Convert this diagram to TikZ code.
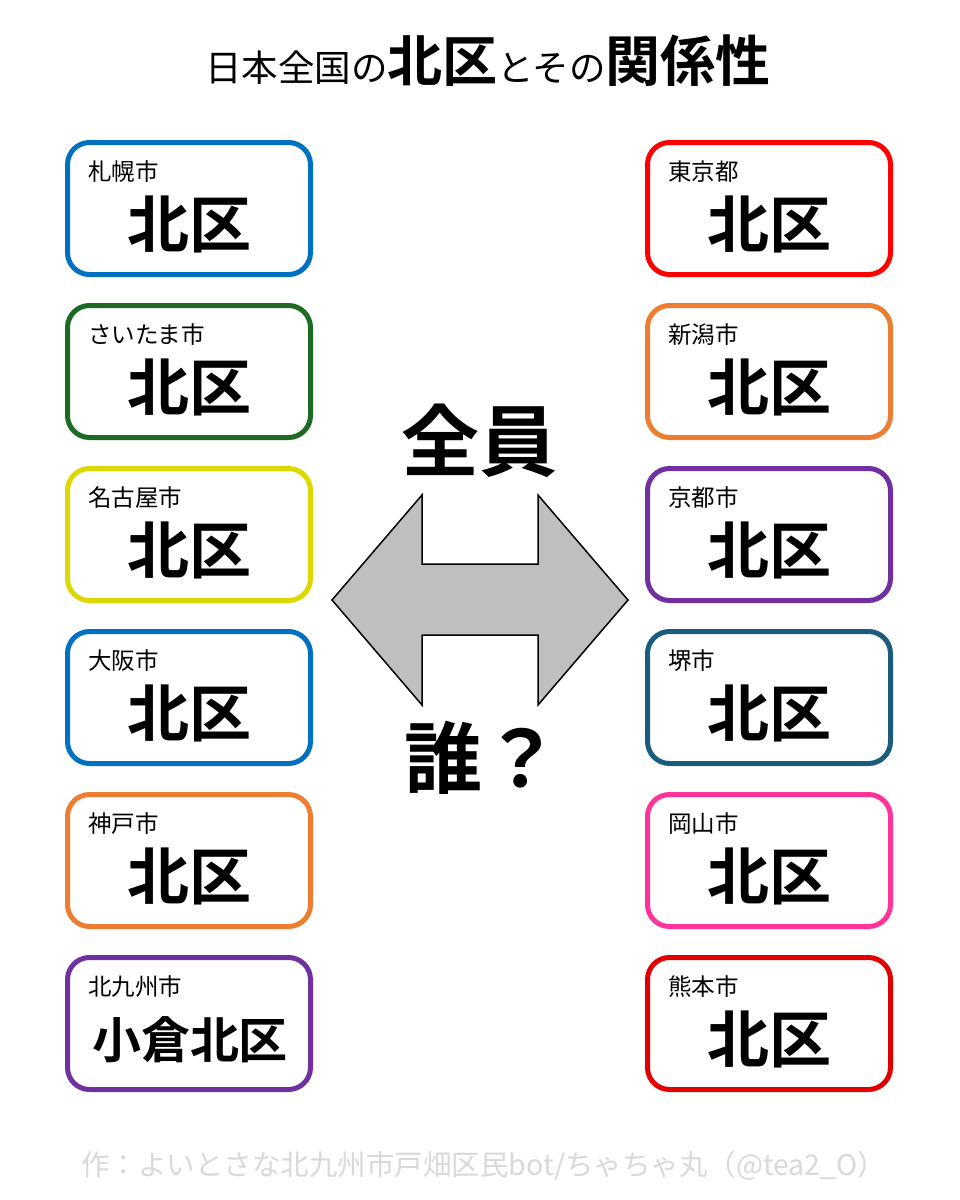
\documentclass[tikz,border=0pt]{standalone}
\usepackage{fontspec}
\setmainfont{Noto Sans CJK JP}
\newfontfamily\jpb{Noto Sans CJK JP Bold}
\definecolor{cblue}{HTML}{0070C0}
\definecolor{cgreen}{HTML}{1B6B25}
\definecolor{cyellow}{HTML}{DDD800}
\definecolor{corange}{HTML}{ED7D31}
\definecolor{cpurple}{HTML}{7030A0}
\definecolor{cred}{HTML}{FF0000}
\definecolor{cteal}{HTML}{1B5C7E}
\definecolor{cpink}{HTML}{FF3399}
\definecolor{cdred}{HTML}{E00000}
\definecolor{footgray}{HTML}{D9D9D9}
\begin{document}
\begin{tikzpicture}[x=1pt,y=-1pt,
  wardbox/.style={draw=#1, line width=5pt, rounded corners=22pt, minimum width=243pt, minimum height=132pt, inner sep=0pt, fill=white},
  cityname/.style={anchor=base west, font=\fontsize{23.5}{26}\selectfont, inner sep=0pt},
  wardname/.style={anchor=center, font=\jpb\fontsize{62}{66}\selectfont, inner sep=0pt},
  bigword/.style={font=\jpb\fontsize{78}{82}\selectfont, inner sep=0pt}]
\useasboundingbox (0,0) rectangle (960,1200);
\fill[white] (0,0) rectangle (960,1200);
% title
\node[anchor=base, inner sep=0pt] (title) at (488,81)
  {\fontsize{36.5}{40}\selectfont 日本全国の{\jpb\fontsize{55}{58}\selectfont 北区}とその{\jpb\fontsize{55}{58}\selectfont 関係性}};
% boxes left
\foreach \n/\c/\y/\city in {
  L1/cblue/208.5/札幌市,
  L2/cgreen/371.5/さいたま市,
  L3/cyellow/534.5/名古屋市,
  L4/cblue/697.5/大阪市,
  L5/corange/860.5/神戸市}{
  \node[wardbox=\c] (\n) at (189,\y) {};
  \node[cityname] (\n c) at (88,\y-28) {\city};
  \node[wardname] (\n w) at (189,\y+16) {北区};
}
\node[wardbox=cpurple] (L6) at (189,1023.5) {};
\node[cityname] (L6c) at (88,995.5) {北九州市};
\node[anchor=center, inner sep=0pt, font=\jpb\fontsize{49}{52}\selectfont] (L6w) at (190,1040) {小倉北区};
\foreach \n/\c/\y/\city in {
  R1/cred/208.5/東京都,
  R2/corange/371.5/新潟市,
  R3/cpurple/534.5/京都市,
  R4/cteal/697.5/堺市,
  R5/cpink/860.5/岡山市,
  R6/cdred/1023.5/熊本市}{
  \node[wardbox=\c] (\n) at (769,\y) {};
  \node[cityname] (\n c) at (668,\y-28) {\city};
  \node[wardname] (\n w) at (769,\y+16) {北区};
}
% double arrow
\draw[fill={rgb,255:red,191;green,191;blue,191}, line width=1.5pt, line join=miter]
  (332,600) -- (422,495) -- (422,564) -- (538,564) -- (538,495) -- (628,600)
  -- (538,705) -- (538,635) -- (422,635) -- (422,705) -- cycle;
\node[bigword] (all) at (479,441) {全員};
\node[bigword, anchor=west] (who) at (404,758) {誰？};
% footer
\node[anchor=west, inner sep=0pt, text=footgray, font=\fontsize{28.5}{30}\selectfont] (foot) at (81,1166)
  {作：よいとさな北九州市戸畑区民bot/ちゃちゃ丸（@tea2\_O）};
\end{tikzpicture}
\end{document}
